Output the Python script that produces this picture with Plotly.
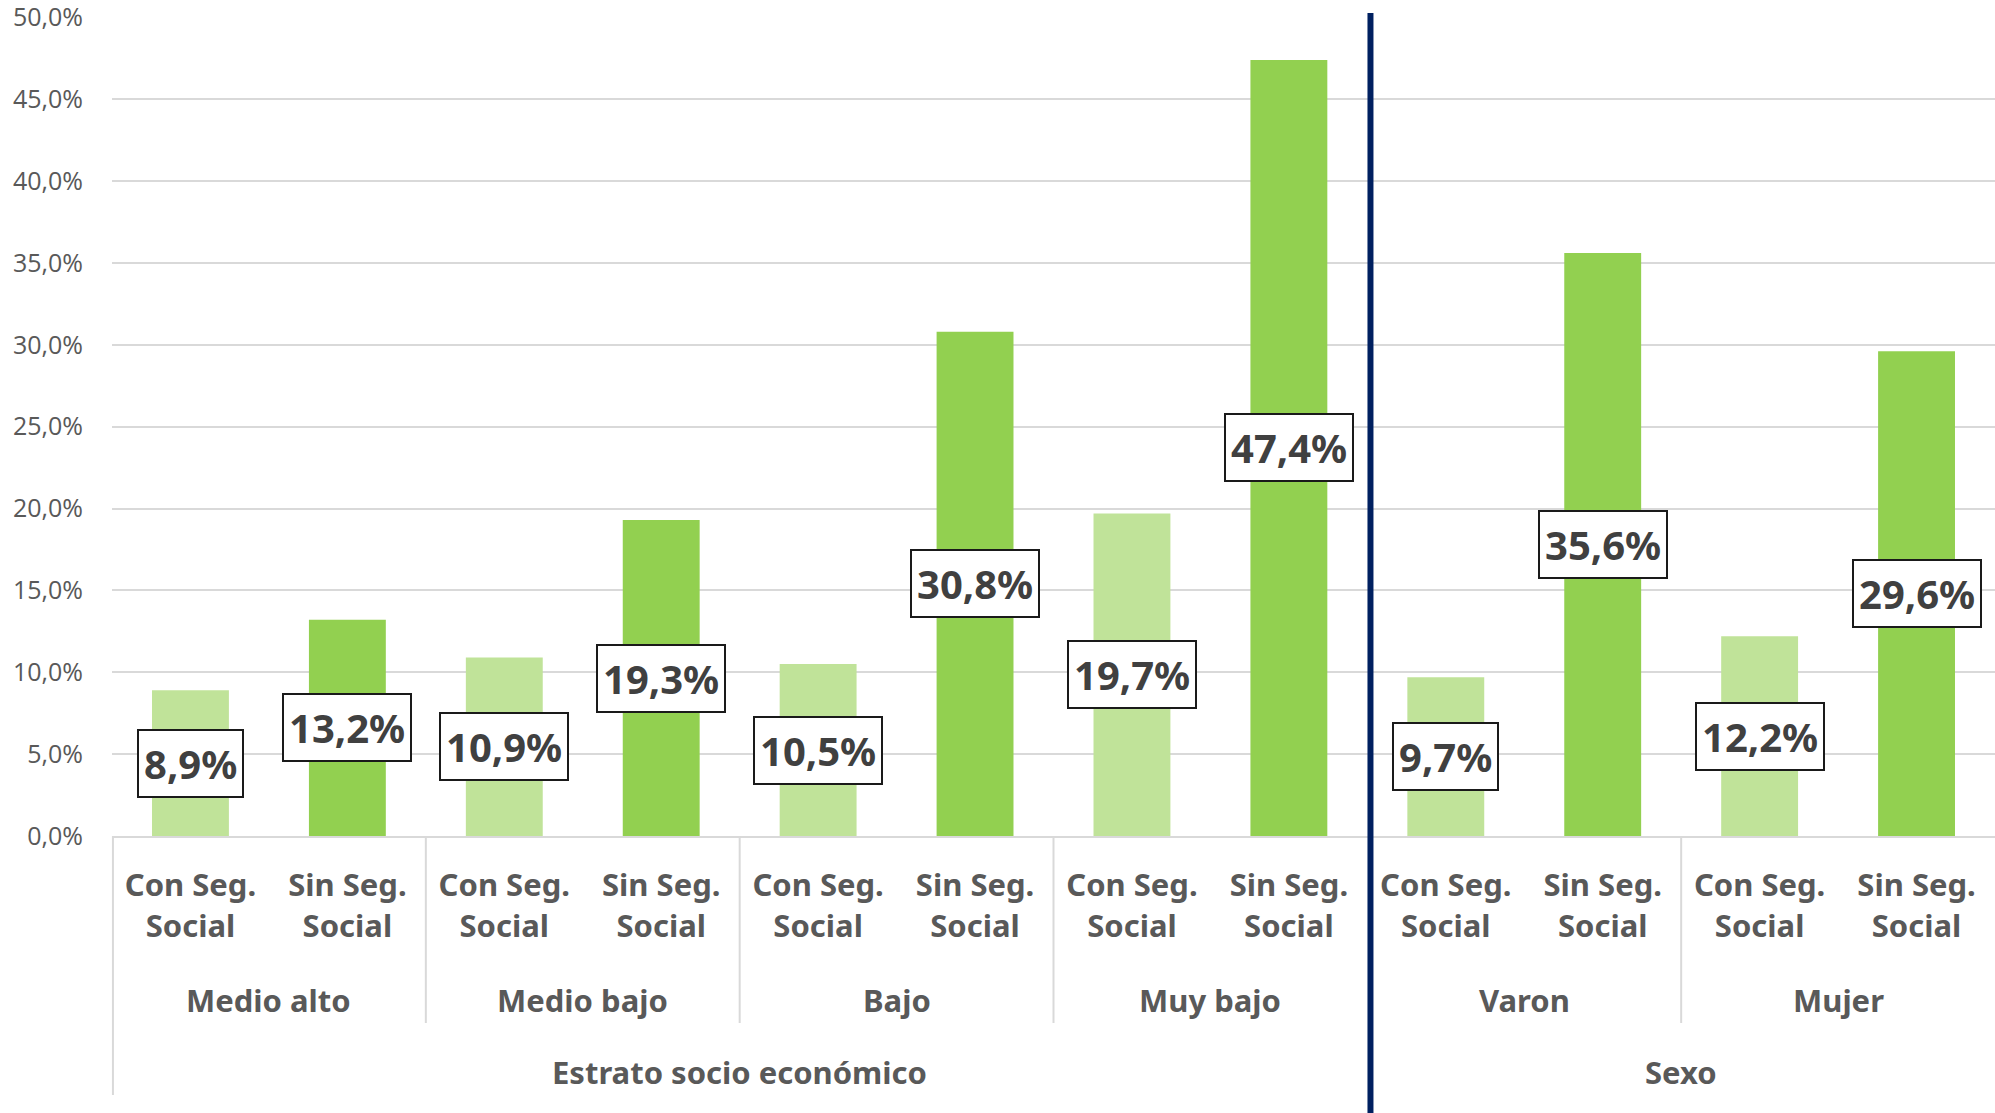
import plotly.graph_objects as go

# ---- data ----
groups = ["Medio alto", "Medio bajo", "Bajo", "Muy bajo", "Varon", "Mujer"]
supergroups = ["Estrato socio económico", "Sexo"]
group_super = [0, 0, 0, 0, 1, 1]
subcats = ["Con Seg.<br>Social", "Sin Seg.<br>Social"]
values_con = [8.9, 10.9, 10.5, 19.7, 9.7, 12.2]
values_sin = [13.2, 19.3, 30.8, 47.4, 35.6, 29.6]
ytick_vals = [0, 5, 10, 15, 20, 25, 30, 35, 40, 45, 50]

COL_CON = "#C0E399"
COL_SIN = "#92D050"
TXT = "#595959"
LBL = "#404040"
GRID = "#D9D9D9"
NAVY = "#002060"
BOLD_FONT = "Noto Sans"

def pct(v):
    return f"{v:.1f}".replace(".", ",") + "%"

# build category list
xcats, yvals, colors, ticktext = [], [], [], []
for g, vc, vs in zip(groups, values_con, values_sin):
    for sc, v, c in zip(subcats, [vc, vs], [COL_CON, COL_SIN]):
        xcats.append(f"{g}|{sc}")
        yvals.append(v)
        colors.append(c)
        ticktext.append("<br>".join(f"<b>{p}</b>" for p in sc.split("<br>")))

fig = go.Figure()
fig.add_trace(go.Bar(x=xcats, y=yvals, marker=dict(color=colors, line=dict(width=0)),
                     hoverinfo="skip"))

annotations = []
# data labels centered in bars
for i, v in enumerate(yvals):
    annotations.append(dict(
        x=xcats[i], y=v / 2, xref="x", yref="y",
        text=f"<b>{pct(v)}</b>",
        showarrow=False,
        font=dict(family=BOLD_FONT, size=40, color=LBL, weight="bold"),
        bgcolor="white", bordercolor="#1A1A1A", borderwidth=2, borderpad=5,
        xanchor="center", yanchor="middle"))

# group labels
PLOT_TOP, PLOT_BOT = 17, 836
H = PLOT_BOT - PLOT_TOP
def py(pix):
    return (PLOT_BOT - pix) / H

for gi, g in enumerate(groups):
    annotations.append(dict(
        x=gi * 2 + 0.5, y=py(1000), xref="x", yref="paper", text=f"<b>{g}</b>", showarrow=False,
        font=dict(family=BOLD_FONT, size=31, color=TXT, weight="bold"),
        xanchor="center", yanchor="middle"))

# supergroup labels
for si, s in enumerate(supergroups):
    idx = [gi for gi, sg in enumerate(group_super) if sg == si]
    center = (idx[0] * 2 + idx[-1] * 2 + 1) / 2
    annotations.append(dict(
        x=center, y=py(1072), xref="x", yref="paper", text=f"<b>{s}</b>", showarrow=False,
        font=dict(family=BOLD_FONT, size=31, color=TXT, weight="bold"),
        xanchor="center", yanchor="middle"))

shapes = []
# separators between groups within the same supergroup
for gi in range(1, len(groups)):
    b = gi * 2 - 0.5
    if group_super[gi] == group_super[gi - 1]:
        shapes.append(dict(type="line", xref="x", yref="paper", x0=b, x1=b,
                           y0=0, y1=py(1023), line=dict(color=GRID, width=2), layer="above"))
    else:
        shapes.append(dict(type="line", xref="x", yref="paper", x0=b + 0.02, x1=b + 0.02,
                           y0=py(1113), y1=py(13), line=dict(color=NAVY, width=6), layer="above"))
# left edge line
shapes.append(dict(type="line", xref="paper", yref="paper", x0=0.0005, x1=0.0005,
                   y0=py(1095), y1=0, line=dict(color=GRID, width=2), layer="above"))

fig.update_layout(
    width=1995, height=1113,
    margin=dict(l=112, r=0, t=PLOT_TOP, b=1113 - PLOT_BOT),
    paper_bgcolor="white", plot_bgcolor="white",
    bargap=0.51,
    showlegend=False,
    annotations=annotations,
    shapes=shapes,
    xaxis=dict(
        type="category", categoryorder="array", categoryarray=xcats,
        tickvals=xcats, ticktext=ticktext,
        tickfont=dict(family=BOLD_FONT, size=31, color=TXT, weight="bold"),
        showline=True, linecolor=GRID, linewidth=2,
        showgrid=False, ticks="", ticklabelstandoff=21,
    ),
    yaxis=dict(
        range=[0, 50.02], tickvals=ytick_vals, ticktext=[pct(v) for v in ytick_vals],
        tickfont=dict(family="Open Sans", size=25, color=TXT),
        showgrid=True, gridcolor=GRID, gridwidth=1.5, ticklabeloverflow="allow",
        zeroline=False, showline=False, ticks="", ticklabelstandoff=28,
    ),
)

fig.write_html("out.html", config={"displayModeBar": False},
               post_script="document.body.style.margin='0';document.body.style.overflow='hidden';")
